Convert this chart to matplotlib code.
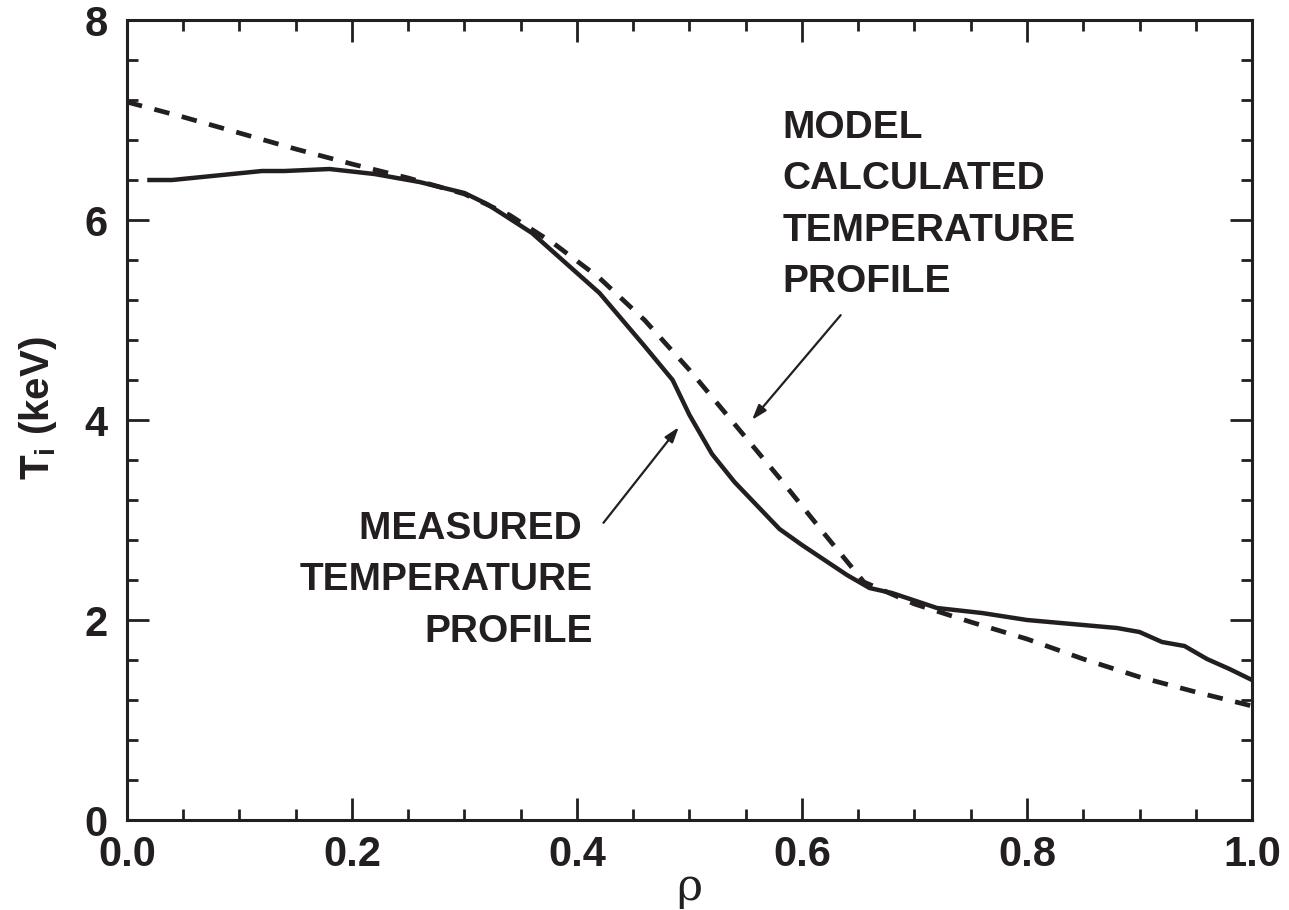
import matplotlib
matplotlib.use("Agg")
import matplotlib.pyplot as plt
from matplotlib.ticker import MultipleLocator

plt.rcParams['font.family'] = ['Liberation Sans', 'DejaVu Sans']
plt.rcParams['font.weight'] = 'bold'
plt.rcParams['mathtext.fontset'] = 'custom'
plt.rcParams['mathtext.rm'] = 'Liberation Sans:bold'

INK = '#231f20'

# Measured ion temperature profile
rho_meas = [0.02, 0.04, 0.12, 0.14, 0.18, 0.22, 0.26, 0.30, 0.32, 0.36, 0.42, 0.46,
            0.485, 0.50, 0.52, 0.54, 0.58, 0.60, 0.64, 0.66, 0.68, 0.72, 0.76, 0.80,
            0.88, 0.90, 0.92, 0.94, 0.96, 0.98, 1.00]
ti_meas = [6.40, 6.40, 6.49, 6.49, 6.51, 6.46, 6.38, 6.27, 6.16, 5.87, 5.27, 4.74,
           4.40, 4.05, 3.66, 3.38, 2.91, 2.75, 2.45, 2.32, 2.27, 2.12, 2.07, 2.00,
           1.92, 1.88, 1.78, 1.74, 1.61, 1.51, 1.40]

# Model calculated profile
rho_model = [0.00, 0.05, 0.10, 0.15, 0.20, 0.25, 0.30, 0.34, 0.38, 0.42, 0.46, 0.50,
             0.54, 0.58, 0.62, 0.655, 0.70, 0.75, 0.80, 0.85, 0.90, 0.95, 1.00]
ti_model = [7.18, 7.03, 6.87, 6.71, 6.56, 6.42, 6.26, 6.05, 5.76, 5.42, 5.00, 4.50,
            3.96, 3.42, 2.86, 2.38, 2.16, 1.98, 1.81, 1.61, 1.43, 1.28, 1.14]

x_ticks = [0.0, 0.2, 0.4, 0.6, 0.8, 1.0]
x_ticklabels = ['0.0', '0.2', '0.4', '0.6', '0.8', '1.0']
y_ticks = [0, 2, 4, 6, 8]

fig = plt.figure(figsize=(12.89, 9.10), dpi=100)
ax = fig.add_axes([0.0985, 0.0989, 0.8728, 0.8791])

ax.plot(rho_meas, ti_meas, color=INK, lw=3.2, solid_joinstyle='round')
ax.plot(rho_model, ti_model, color=INK, lw=3.4, dashes=(3.3, 2.7))

ax.set_xlim(0, 1.0)
ax.set_ylim(0, 8)
ax.set_xticks(x_ticks)
ax.set_xticklabels(x_ticklabels)
ax.set_yticks(y_ticks)
ax.xaxis.set_minor_locator(MultipleLocator(0.05))
ax.yaxis.set_minor_locator(MultipleLocator(0.4))

for s in ax.spines.values():
    s.set_linewidth(2.2)
    s.set_color(INK)
ax.tick_params(which='both', direction='in', top=True, right=True, color=INK)
ax.tick_params(which='major', length=16, width=2.0, labelsize=30, pad=11, labelcolor=INK)
ax.tick_params(axis='y', which='major', pad=14)
ax.tick_params(which='minor', length=8, width=2.0)

ax.set_ylabel(r'T$_\mathregular{i}$ (keV)', fontsize=29, fontweight='bold', color=INK)
ax.yaxis.set_label_coords(-0.079, 0.515)
ax.yaxis.label.set_va('center')
ax.set_xlabel('ρ', fontsize=32, fontweight='normal', family='DejaVu Serif', color=INK)
ax.xaxis.set_label_coords(0.5, -0.084)
ax.xaxis.label.set_va('center')

ax.text(0.583, 7.10, 'MODEL\nCALCULATED\nTEMPERATURE\nPROFILE', fontsize=28,
        fontweight='bold', color=INK, ha='left', va='top', linespacing=1.55)
ax.annotate('', xy=(0.554, 3.98), xytext=(0.636, 5.07),
            arrowprops=dict(arrowstyle='-|>,head_length=0.9,head_width=0.3',
                            color=INK, lw=1.6))

ax.text(0.414, 3.09, 'MEASURED \nTEMPERATURE\nPROFILE', fontsize=28,
        fontweight='bold', color=INK, ha='right', va='top', linespacing=1.55,
        multialignment='right')
ax.annotate('', xy=(0.492, 3.95), xytext=(0.422, 2.95),
            arrowprops=dict(arrowstyle='-|>,head_length=0.9,head_width=0.3',
                            color=INK, lw=1.6))

fig.savefig('out.png', dpi=100)
